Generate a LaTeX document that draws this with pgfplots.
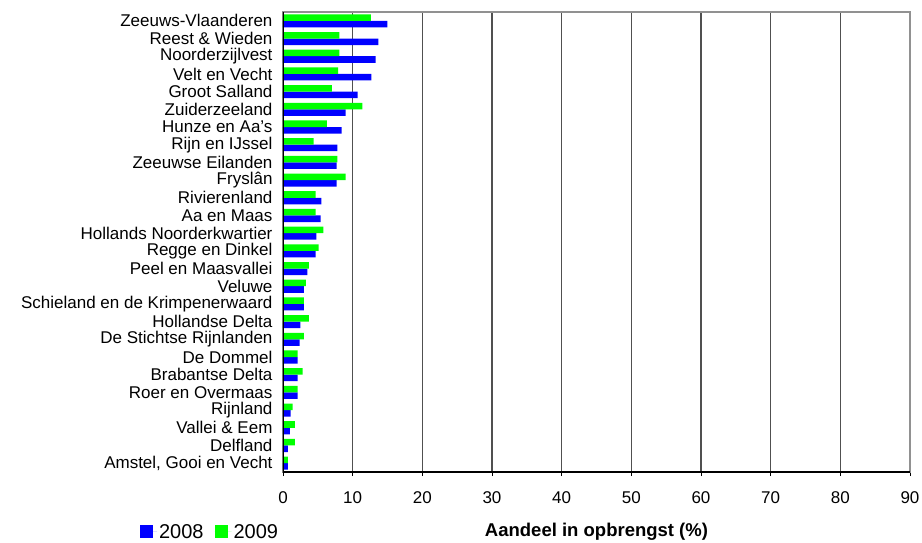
\documentclass[border=0pt]{standalone}
\usepackage{pgfplots}
\pgfplotsset{compat=1.18}
\usepackage{pgfplotstable}
\usepackage{fontspec}
\setmainfont{Liberation Sans}

\definecolor{bl}{RGB}{0,0,255}
\definecolor{gr}{RGB}{0,255,0}
\definecolor{gridc}{RGB}{80,80,80}
\definecolor{framec}{RGB}{145,145,145}

% idx 0 = top category
\pgfplotstableread{
idx y2008 y2009
0  15.0 12.6
1  13.7 8.1
2  13.3 8.1
3  12.7 7.9
4  10.7 7.0
5  9.0  11.4
6  8.4  6.3
7  7.8  4.4
8  7.7  7.8
9  7.7  9.0
10 5.5  4.7
11 5.4  4.7
12 4.8  5.8
13 4.7  5.1
14 3.5  3.7
15 3.0  3.3
16 3.0  3.0
17 2.5  3.7
18 2.4  3.0
19 2.1  2.1
20 2.1  2.8
21 2.1  2.1
22 1.1  1.4
23 1.0  1.7
24 0.7  1.7
25 0.7  0.7
}\datatable

\begin{document}
\begin{tikzpicture}
\path[use as bounding box] (-283pt,-70pt) rectangle (639pt,472pt);
\begin{axis}[
  at={(0,0)}, anchor=south west,
  scale only axis,
  width=627pt, height=460pt,
  xbar, bar width=0.37,
  xmin=0, xmax=90,
  ymin=-0.5, ymax=25.5,
  y dir=reverse,
  xtick={0,10,...,90},
  ytick={0,...,25},
  yticklabels={Zeeuws-Vlaanderen, Reest \& Wieden, Noorderzijlvest, Velt en Vecht,
    Groot Salland, Zuiderzeeland, Hunze en Aa's, Rijn en IJssel, Zeeuwse Eilanden,
    Fryslân, Rivierenland, Aa en Maas, Hollands Noorderkwartier, Regge en Dinkel,
    Peel en Maasvallei, Veluwe, Schieland en de Krimpenerwaard, Hollandse Delta,
    De Stichtse Rijnlanden, De Dommel, Brabantse Delta, Roer en Overmaas, Rijnland,
    Vallei \& Eem, Delfland, {Amstel, Gooi en Vecht}},
  ytick style={draw=none},
  extra y ticks={-0.5,0.5,...,25.5},
  extra y tick labels={},
  extra y tick style={major tick length=4pt, tick align=outside, tick style={draw=black, thick}, grid=none},
  tick pos=left,
  xtick style={draw=black, thick},
  x tick label style={font=\fontsize{17}{18}\selectfont, yshift=-12pt},
  y tick label style={font=\fontsize{17}{18}\selectfont, xshift=-3pt},
  major tick length=4pt, tick align=outside,
  /pgf/number format/assume math mode=true,
  xmajorgrids,
  grid style={gridc, line width=1.3pt},
  axis line style={framec, line width=1.6pt},
  xlabel={Aandeel in opbrengst (\%)},
  xlabel style={at={(axis description cs:0.5,-0.13)}, anchor=center, font=\fontsize{18.5}{20}\selectfont\bfseries},
  legend columns=2,
  legend style={at={(axis description cs:-0.1164,-0.13)}, anchor=center, draw=none, fill=none,
    font=\fontsize{20}{21}\selectfont, inner sep=0pt,
    /tikz/every even column/.append style={column sep=9pt}},
  legend image code/.code={\path (0pt,0pt) -- (17pt,0pt);
    \fill[#1] (0pt,-6.5pt) rectangle (13pt,6.5pt);},
]
\addplot[fill=bl, draw=none, bar shift=0.185] table[x=y2008, y=idx] {\datatable};
\addlegendentry{2008}
\addplot[fill=gr, draw=none, bar shift=-0.185] table[x=y2009, y=idx] {\datatable};
\addlegendentry{2009}
\draw[black, line width=1.6pt] (rel axis cs:0,1) -- (rel axis cs:0,0) -- (rel axis cs:1,0);
\end{axis}
\end{tikzpicture}
\end{document}
